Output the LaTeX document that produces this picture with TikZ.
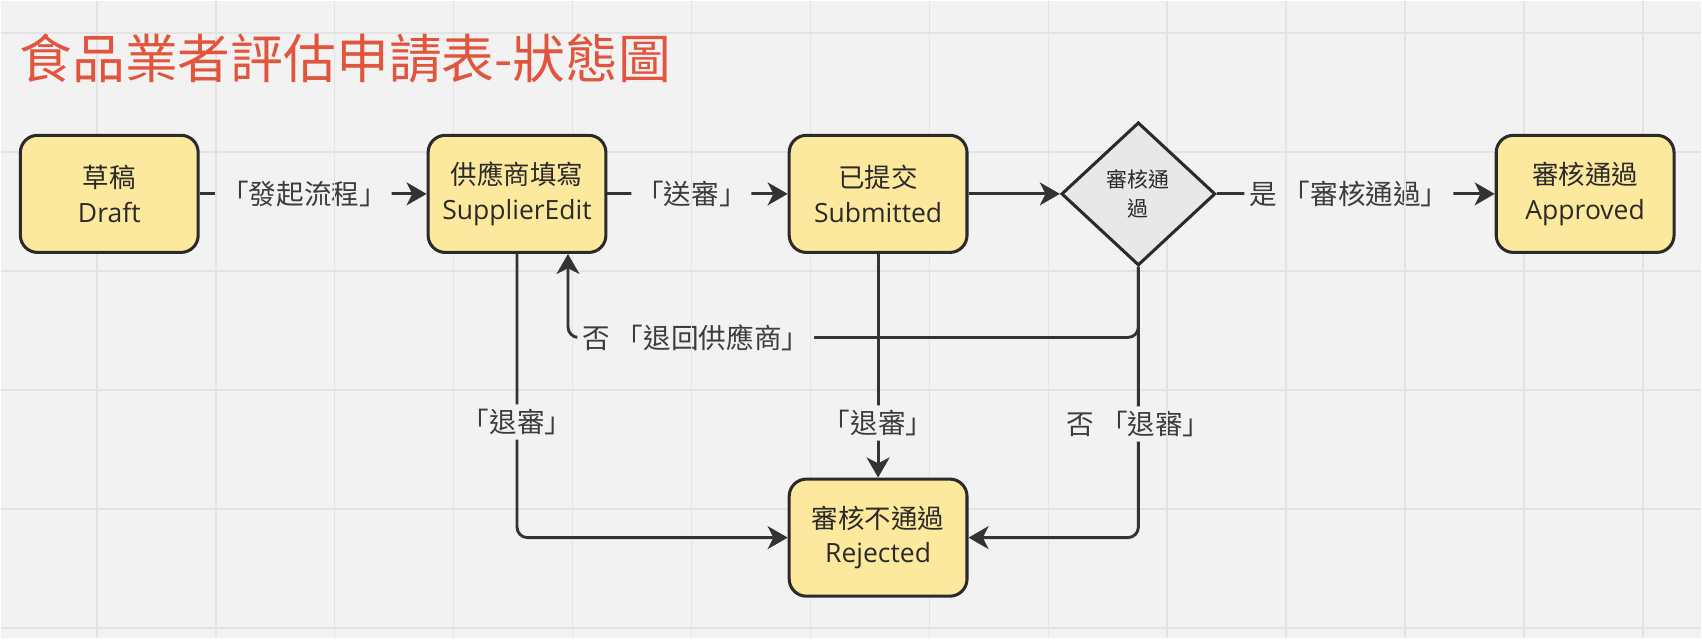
\documentclass[tikz,border=0pt]{standalone}
\usepackage{fontspec}
\setmainfont{Open Sans}
\newfontfamily\cjk{Noto Sans CJK TC}
\usetikzlibrary{arrows.meta,shapes.geometric}

\definecolor{canvas}{HTML}{F2F2F2}
\definecolor{gridgray}{HTML}{E3E3E3}
\definecolor{statefill}{HTML}{FDE99E}
\definecolor{checkfill}{HTML}{E8E8E8}
\definecolor{ink}{HTML}{2A2A2A}
\definecolor{linegray}{HTML}{333333}
\definecolor{labelgray}{HTML}{3C3C3C}
\definecolor{titlered}{HTML}{E0553C}

% background grid (px units)
\newcommand{\drawgrid}{%
  \foreach \i in {0,...,13}
    \draw[gridline] (88.4+109.7*\i,0) -- (88.4+109.7*\i,588);
  \foreach \j in {0,...,5}
    \draw[gridline] (0,29.8+109.7*\j) -- (1568,29.8+109.7*\j);
}

\begin{document}
\begin{tikzpicture}[x=0.02cm, y=-0.02cm,
    gridline/.style={draw=gridgray, line width=0.9pt},
    title/.style={anchor=west, inner sep=0pt, text=titlered,
        font=\cjk\fontsize{27.7}{33}\selectfont},
    state/.style={rectangle, rounded corners=9pt, draw=ink, line width=1.6pt,
        fill=statefill, minimum width=3.28cm, minimum height=2.16cm,
        align=center, text=ink, font=\fontsize{13.9}{18.1}\selectfont},
    decision/.style={diamond, draw=ink, line width=1.6pt, fill=checkfill,
        minimum width=2.84cm, minimum height=2.64cm, inner sep=0pt,
        align=center, text=ink, font=\cjk\fontsize{11}{15.1}\selectfont},
    flow/.style={draw=linegray, line width=1.5pt, rounded corners=5.5pt,
        -{Stealth[length=10.5pt, width=12pt, inset=3pt]}},
    lbl/.style={fill=canvas, text=labelgray, inner sep=2.5pt,
        font=\cjk\fontsize{14.5}{17}\selectfont}]

    \fill[canvas] (0,0) rectangle (1568,588);
    \drawgrid

    \node[title] (title) at (17,53.5) {食品業者評估申請表-狀態圖};

    % states
    \node[state] (draft) at (100,178) {{\cjk 草稿}\\Draft};
    \node[state] (edit) at (476,178) {{\cjk 供應商填寫}\\SupplierEdit};
    \node[state] (submitted) at (809,178) {{\cjk 已提交}\\Submitted};
    \node[decision] (check) at (1049,178) {審核通\\過};
    \node[state] (approved) at (1461,178) {{\cjk 審核通過}\\Approved};
    \node[state] (rejected) at (809,495) {{\cjk 審核不通過}\\Rejected};

    % transitions
    \draw[flow] (draft) -- node[lbl, pos=0.46] (lstart) {「發起流程」} (edit);
    \draw[flow] (edit) -- node[lbl, pos=0.466] (lsend) {「送審」} (submitted);
    \draw[flow] (submitted) -- (check);
    \draw[flow] (check) -- node[lbl, pos=0.475] (lyes) {是 「審核通過」} (approved);
    \draw[flow] (check.south) -- ++(0,65) -| node[lbl, pos=0.388] (lback) {否 「退回供應商」} ([xshift=0.94cm]edit.south);
    \draw[flow] (edit.south) |- node[lbl, pos=0.296] (lquit1) {「退審」} (rejected.west);
    \draw[flow] (submitted) -- node[lbl, pos=0.756] (lquit2) {「退審」} (rejected);
    \draw[flow] (check.south) |- node[lbl, pos=0.29] (lquit3) {否 「退審」} (rejected.east);

    % grid shows through the labels
    \foreach \l in {lstart,lsend,lyes,lback,lquit1,lquit2,lquit3} {
        \begin{scope}
            \clip (\l.south west) rectangle (\l.north east);
            \drawgrid
        \end{scope}
    }
\end{tikzpicture}
\end{document}
